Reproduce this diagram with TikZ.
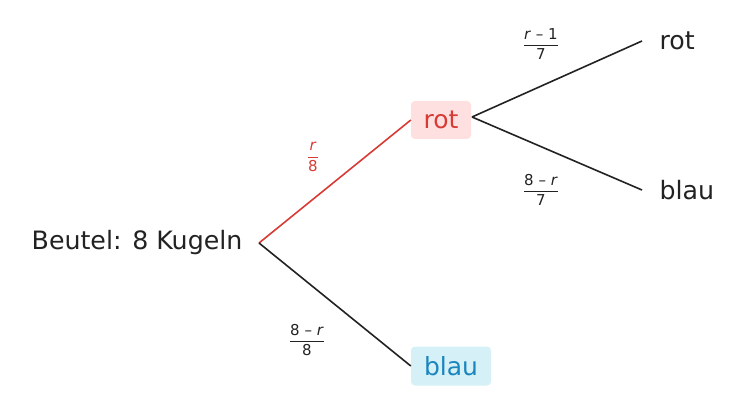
\documentclass[tikz,border=0pt]{standalone}
\usepackage{amsmath}
\usepackage{fontspec}
\setmainfont{DejaVu Sans}
\definecolor{tred}{HTML}{D83A34}
\definecolor{tblue}{HTML}{1A86BE}
\definecolor{pinkbg}{HTML}{FDE0DF}
\definecolor{cyanbg}{HTML}{D6F0F7}
\definecolor{ink}{HTML}{222222}
\newcommand{\fr}[2]{$\displaystyle\frac{\text{#1}}{\text{#2}}$}
\begin{document}
\begin{tikzpicture}[x=1pt,y=-1pt,
  lbl/.style={font=\fontsize{16}{18}\selectfont,text=ink},
  box/.style={rounded corners=4pt,inner sep=3pt,font=\fontsize{16}{18}\selectfont,minimum height=24pt},
  edge/.style={line width=1.6pt,ink},
  frac/.style={font=\fontsize{10}{11}\selectfont,text=ink}]
\useasboundingbox (0,0) rectangle (745,409);
\begin{scope}[scale=1]
\end{scope}
\node[lbl,anchor=east,scale=1.58] (root) at (248,243) {Beutel: 8 Kugeln};
\coordinate (r0) at (259,243);
\node[box,fill=pinkbg,text=tred,minimum width=60pt,minimum height=38pt,font=\fontsize{25}{28}\selectfont] (rot) at (441,120) {rot};
\node[box,fill=cyanbg,text=tblue,minimum width=80pt,minimum height=39pt,font=\fontsize{25}{28}\selectfont] (blau) at (451,366) {blau};
\coordinate (r1) at (472,117);
\coordinate (e1) at (642,41);
\coordinate (e2) at (642,190);
\node[lbl,anchor=west,scale=1.58] (rr) at (654,41) {rot};
\node[lbl,anchor=west,scale=1.58] (rb) at (654,190) {blau};
\draw[line width=1.6pt,tred] (r0) -- (rot.west);
\draw[edge] (r0) -- (blau.west);
\draw[edge] (r1) -- (e1);
\draw[edge] (r1) -- (e2);
\node[frac,text=tred,scale=1.5] (f1) at (313,157) {\fr{\textit{r}}{8}};
\node[frac,scale=1.5] (f2) at (307,340) {\fr{8 – \textit{r}}{8}};
\node[frac,scale=1.5] (f3) at (541,44) {\fr{\textit{r} – 1}{7}};
\node[frac,scale=1.5] (f4) at (541,190) {\fr{8 – \textit{r}}{7}};
\end{tikzpicture}
\end{document}
